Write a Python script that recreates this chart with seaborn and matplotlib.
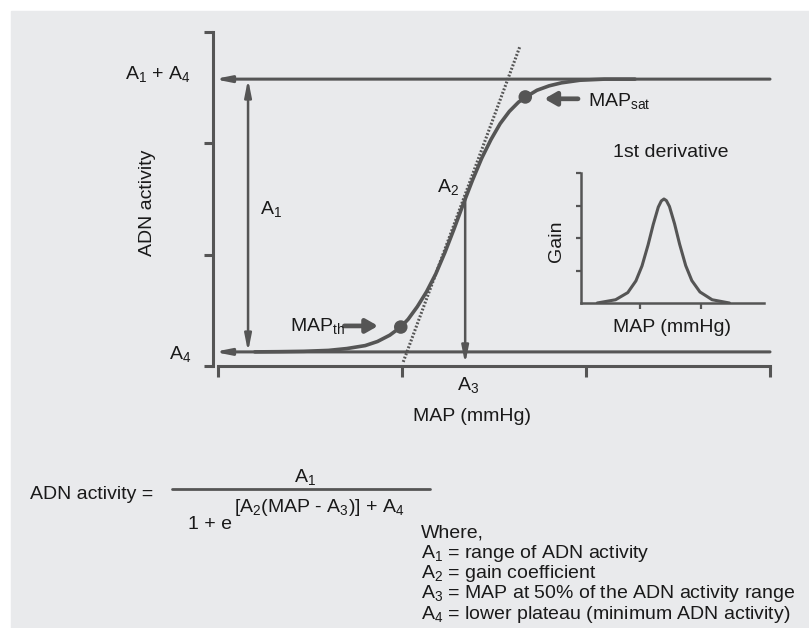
import matplotlib
matplotlib.use("Agg")
import matplotlib.pyplot as plt
from matplotlib.lines import Line2D
from matplotlib.patches import Rectangle
import pandas as pd
import seaborn as sns

# main sigmoid (MAP in mmHg, ADN activity in arbitrary units)
map_curve = [66, 70, 74, 78, 81, 84, 86, 88, 89.8, 91, 92.5, 94, 95.5, 97, 98.5, 100,
             101.5, 103, 104.5, 106, 107.5, 109, 110.1, 112, 114, 116, 119, 123, 128]
adn_curve = [3.8, 3.86, 3.96, 4.2, 4.7, 5.5, 6.6, 8.3, 10.5, 12.6, 16.0, 20.0, 24.8, 30.6,
             37.0, 43.7, 50.1, 56.0, 61.0, 65.3, 68.6, 71.1, 72.4, 74.3, 75.5, 76.3, 77.0, 77.3, 77.3]

# plateaus and parameters
A4 = 3.8           # lower plateau
A1_A4 = 77.3       # upper plateau
A3 = 100.3         # MAP at 50 % of range
A3_level = 45.5    # where the A3 drop line leaves the curve
map_th, adn_th = 89.8, 10.5
map_sat, adn_sat = 110.1, 72.5
tangent_map = [90.2, 109.2]
tangent_adn = [1.1, 86.0]
map_ticks = [60, 90, 120, 150]
adn_ticks = [0, 30, 60, 90]

# inset: first derivative (gain)
gain_x = [0.9, 1.8, 2.4, 2.8, 3.1, 3.4, 3.65, 3.9, 4.05, 4.18, 4.3, 4.45, 4.7,
          4.95, 5.25, 5.55, 5.95, 6.55, 7.4]
gain_y = [0.0, 0.1, 0.32, 0.68, 1.14, 1.79, 2.41, 2.95, 3.14, 3.2, 3.15, 2.97, 2.44,
          1.81, 1.15, 0.69, 0.34, 0.1, 0.0]

BG = "#e9eaec"
LINE = "#555555"
TEXT = "#1a1a1a"
W, H = 809, 628

sns.set_theme(style="white")
plt.rcParams["font.family"] = ["Liberation Sans", "DejaVu Sans"]
plt.rcParams["mathtext.fontset"] = "custom"
plt.rcParams["mathtext.rm"] = "Liberation Sans"
plt.rcParams["mathtext.it"] = "Liberation Sans:italic"
plt.rcParams["mathtext.default"] = "regular"

fig = plt.figure(figsize=(W / 100, H / 100), dpi=100)
fig.patch.set_facecolor("white")
fig.add_artist(Rectangle((11 / W, 0), 1, 1 - 11 / H, transform=fig.transFigure,
                         color=BG, zorder=-10))


def ftext(px, py, s, size=14, **kw):
    fig.text(px / W, 1 - py / H, s, color=TEXT, fontsize=size, **kw)


# ---- main axes
ax = fig.add_axes([218 / W, 1 - 366 / H, 552 / W, 334 / H])
ax.set_facecolor("none")
ax.set_xlim(60, 150)
ax.set_ylim(0, 90)
ax.set_xticks(map_ticks)
ax.set_yticks(adn_ticks)
ax.tick_params(axis="x", direction="out", length=8, width=2.2, color=LINE,
               labelbottom=False, bottom=True)
ax.tick_params(axis="y", direction="out", length=6.5, width=2.2, color=LINE,
               labelleft=False, left=True)
for side in ["top", "right"]:
    ax.spines[side].set_visible(False)
for side in ["left", "bottom"]:
    ax.spines[side].set_color(LINE)
    ax.spines[side].set_linewidth(2.2)
ax.spines["left"].set_position(("outward", 3.6))

curve = pd.DataFrame({"MAP": map_curve, "ADN": adn_curve})
sns.lineplot(data=curve, x="MAP", y="ADN", ax=ax, color=LINE, lw=2.6,
             estimator=None, sort=False, zorder=4)
tangent = pd.DataFrame({"MAP": tangent_map, "ADN": tangent_adn})
sns.lineplot(data=tangent, x="MAP", y="ADN", ax=ax, color=LINE, lw=2.2,
             linestyle=(0, (0.6, 0.6)), estimator=None, sort=False, zorder=3)
pts = pd.DataFrame({"MAP": [map_th, map_sat], "ADN": [adn_th, adn_sat]})
sns.scatterplot(data=pts, x="MAP", y="ADN", ax=ax, color=LINE, s=95,
                edgecolor="none", zorder=5)
ax.set_xlabel("")
ax.set_ylabel("")

arrow_kw = dict(color=LINE, shrinkA=0, shrinkB=0)
# plateau lines with small heads pointing to the axis
for lvl in [A1_A4, A4]:
    ax.annotate("", xy=(59.4, lvl), xytext=(150, lvl), annotation_clip=False,
                arrowprops=dict(arrowstyle="-|>,head_length=0.9,head_width=0.18",
                                lw=2.2, mutation_scale=10, **arrow_kw))
# A1 range arrow
ax.annotate("", xy=(64.9, A1_A4), xytext=(64.9, A4),
            arrowprops=dict(arrowstyle="<|-|>,head_length=1.0,head_width=0.2",
                            lw=1.8, mutation_scale=10, **arrow_kw))
# A3 drop line
ax.annotate("", xy=(A3, 0.6), xytext=(A3, A3_level), annotation_clip=False,
            arrowprops=dict(arrowstyle="-|>,head_length=1.0,head_width=0.2",
                            lw=1.8, mutation_scale=10, **arrow_kw))
# label arrows
ax.annotate("", xy=(86.1, 10.8), xytext=(80.6, 10.8),
            arrowprops=dict(arrowstyle="-|>,head_length=0.7,head_width=0.4",
                            lw=3.4, mutation_scale=10, **arrow_kw))
ax.annotate("", xy=(113.2, 72.0), xytext=(118.7, 72.0),
            arrowprops=dict(arrowstyle="-|>,head_length=0.7,head_width=0.4",
                            lw=3.4, mutation_scale=10, **arrow_kw))

# ---- inset axes
ax2 = fig.add_axes([581 / W, 1 - 303 / H, 183 / W, 130 / H])
ax2.set_facecolor("none")
ax2.set_xlim(0.1, 9.1)
ax2.set_ylim(0, 4)
ax2.set_xticks([3, 6])
ax2.set_yticks([1, 2, 3, 4])
ax2.tick_params(axis="x", direction="out", length=4, width=1.6, color=LINE,
                labelbottom=False, bottom=True)
ax2.tick_params(axis="y", direction="out", length=3.5, width=1.6, color=LINE,
                labelleft=False, left=True)
for side in ["top", "right"]:
    ax2.spines[side].set_visible(False)
for side in ["left", "bottom"]:
    ax2.spines[side].set_color(LINE)
    ax2.spines[side].set_linewidth(1.8)
gain = pd.DataFrame({"MAP": gain_x, "Gain": gain_y})
sns.lineplot(data=gain, x="MAP", y="Gain", ax=ax2, color=LINE, lw=2.2,
             estimator=None, sort=False)
ax2.set_xlabel("")
ax2.set_ylabel("")

# ---- text
ftext(148, 203, "ADN activity", rotation=90, ha="center", va="center")
ftext(472, 421, "MAP (mmHg)", ha="center", va="baseline")
ftext(191, 79, r"A$_1$ + A$_4$", ha="right", va="baseline")
ftext(191, 359, r"A$_4$", ha="right", va="baseline")
ftext(260, 214, r"A$_1$", ha="left", va="baseline")
ftext(437, 192, r"A$_2$", ha="left", va="baseline")
ftext(457, 390, r"A$_3$", ha="left", va="baseline")
ftext(290, 331, r"MAP$_{th}$", ha="left", va="baseline")
ftext(588, 106, r"MAP$_{sat}$", ha="left", va="baseline")
ftext(671, 157, "1st derivative", ha="center", va="baseline")
ftext(672, 332, "MAP (mmHg)", ha="center", va="baseline")
ftext(557, 241, "Gain", rotation=90, ha="center", va="center")

# ---- equation
ftext(30, 499, "ADN activity =", ha="left", va="baseline")
ftext(305, 482, r"A$_1$", ha="center", va="baseline")
fig.add_artist(Line2D([172 / W, 430 / W], [1 - 489 / H] * 2, transform=fig.transFigure,
                      lw=2, color=LINE))
ftext(188, 529, "1 + e", ha="left", va="baseline")
ftext(234, 512, r"[A$_2$(MAP - A$_3$)] + A$_4$", ha="left", va="baseline")

defs = ["Where,",
        r"A$_1$ = range of ADN activity",
        r"A$_2$ = gain coefficient",
        r"A$_3$ = MAP at 50% of the ADN activity range",
        r"A$_4$ = lower plateau (minimum ADN activity)"]
for i, line in enumerate(defs):
    ftext(421, 537 + 20.5 * i, line, ha="left", va="baseline")

fig.savefig("out.png", dpi=100, facecolor=fig.get_facecolor())
